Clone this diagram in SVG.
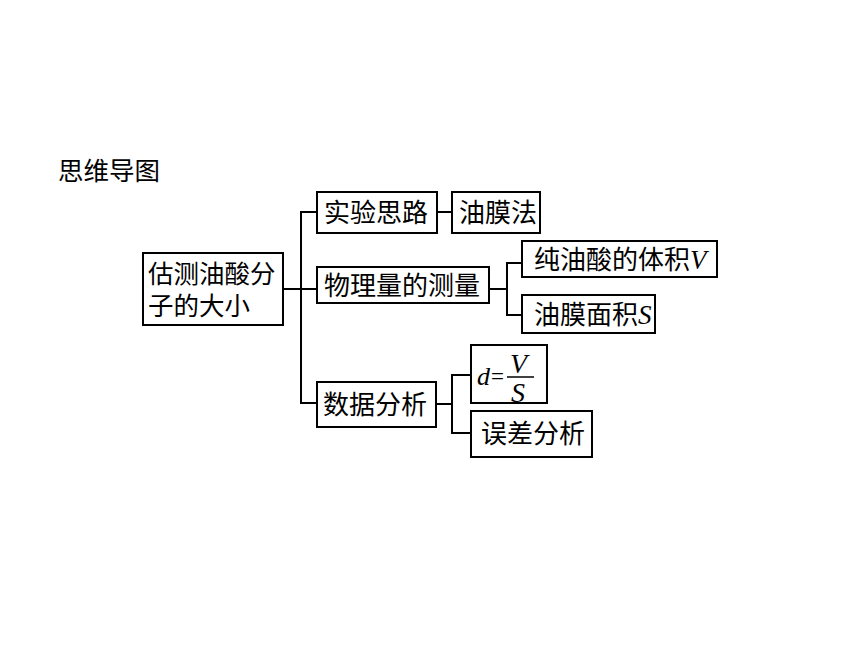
<svg xmlns="http://www.w3.org/2000/svg" width="860" height="645" viewBox="0 0 860 645">
<style>
.bg{fill:#ffffff}
.box{fill:#ffffff;stroke:#000000;stroke-width:2}
.t{font-family:"Noto Sans CJK SC","Noto Sans",sans-serif;font-size:26px;fill:#000000}
.m{font-family:"Liberation Serif",serif;font-style:italic;fill:#000000}
.c{fill:none;stroke:#000000;stroke-width:2}
</style>
<rect class="bg" x="0" y="0" width="860" height="645"/>
<text class="t" x="58" y="180" style="font-size:25.5px">思维导图</text>
<g id="connectors">
<path class="c" d="M283 289 H301 M317 212 H301 V403 H317 M301 289 H317"/>
<path class="c" d="M437 212 H452"/>
<path class="c" d="M489 289 H507 M522 263 H507 V315 H522"/>
<path class="c" d="M436 404 H452 M471 375 H452 V433 H471"/>
</g>
<g id="root">
<rect class="box" x="143" y="253" width="140" height="72"/>
<text class="t" x="148" y="283" style="font-size:25.5px">估测油酸分</text>
<text class="t" x="148" y="315" style="font-size:25.5px">子的大小</text>
</g>
<g id="n1">
<rect class="box" x="317" y="192" width="120" height="41"/>
<text class="t" x="324" y="222">实验思路</text>
</g>
<g id="n1a">
<rect class="box" x="452" y="192" width="88" height="41"/>
<text class="t" x="459" y="222">油膜法</text>
</g>
<g id="n2">
<rect class="box" x="317" y="267" width="172" height="36"/>
<text class="t" x="324" y="295">物理量的测量</text>
</g>
<g id="n2a">
<rect class="box" x="522" y="241" width="195" height="36"/>
<text class="t" x="534" y="269">纯油酸的体积<tspan class="m" style="font-size:27px">V</tspan></text>
</g>
<g id="n2b">
<rect class="box" x="522" y="295" width="133" height="38"/>
<text class="t" x="534" y="324">油膜面积<tspan class="m" style="font-size:27px">S</tspan></text>
</g>
<g id="n3">
<rect class="box" x="317" y="382" width="119" height="45"/>
<text class="t" x="323" y="414">数据分析</text>
</g>
<g id="n3a">
<rect class="box" x="471" y="345" width="76" height="58"/>
<text class="m" x="477" y="385" style="font-size:26px">d</text>
<text x="491" y="384" style="font-family:'Liberation Serif',serif;font-size:23px">=</text>
<line x1="507" y1="377" x2="534" y2="377" stroke="#000" stroke-width="1.5"/>
<text class="m" x="510" y="373" style="font-size:28px">V</text>
<text class="m" x="511" y="402" style="font-size:28px">S</text>
</g>
<g id="n3b">
<rect class="box" x="471" y="411" width="121" height="46"/>
<text class="t" x="481" y="443">误差分析</text>
</g>
</svg>
